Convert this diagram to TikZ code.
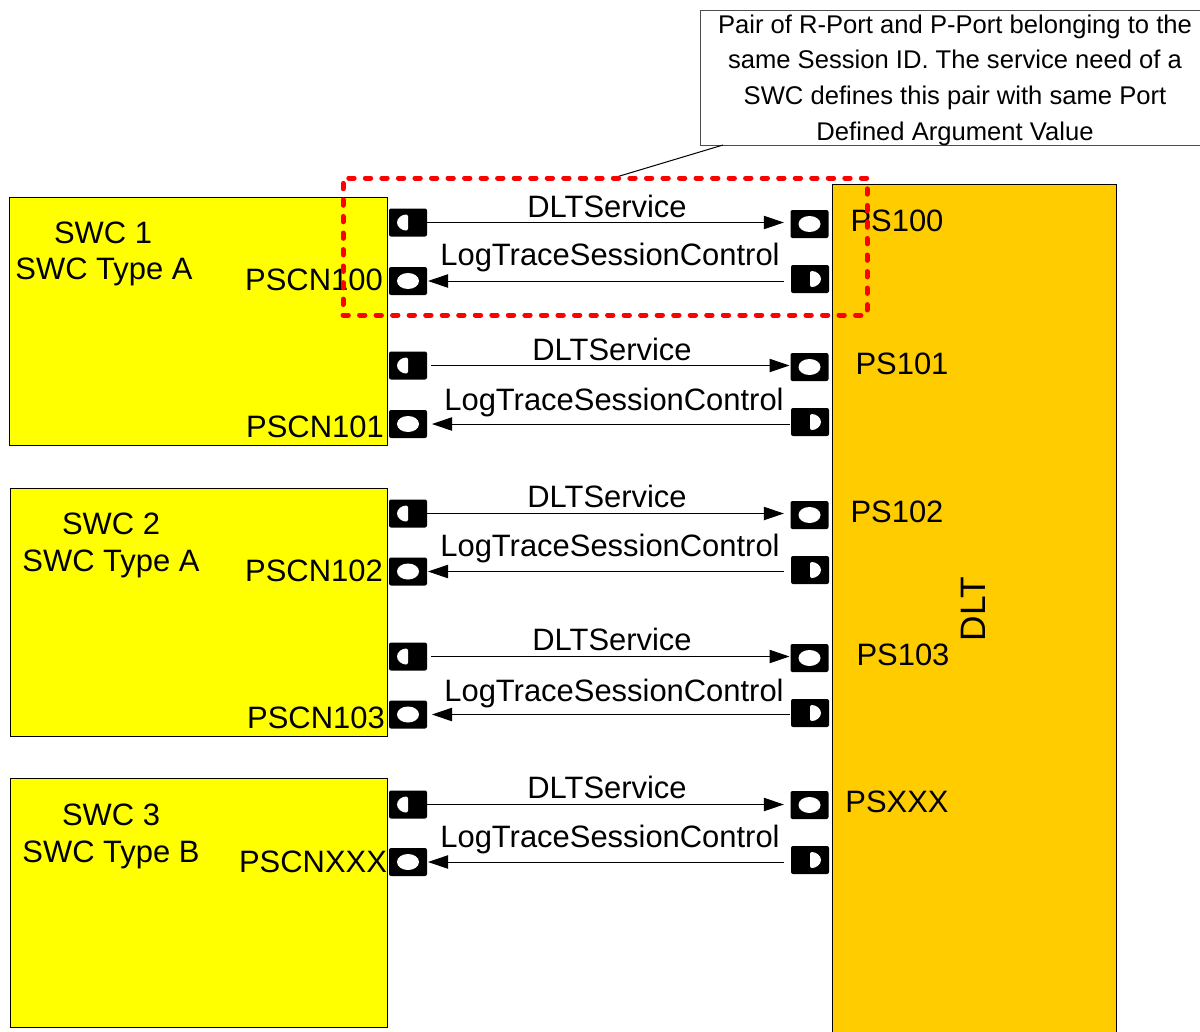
\documentclass[tikz,border=0pt]{standalone}
\usepackage{fontspec}
\setmainfont{Liberation Sans}
\usetikzlibrary{arrows.meta}
\definecolor{swcyellow}{RGB}{255,255,0}
\definecolor{dltorange}{RGB}{255,204,0}
\tikzset{
  swcbox/.style={draw=black, line width=0.75pt, fill=swcyellow, inner sep=0pt, outer sep=0pt, minimum width=283pt, minimum height=186.5pt},
  portbox/.style={fill=black, rounded corners=1.5pt, inner sep=0pt, outer sep=0pt, minimum width=28.5pt, minimum height=21pt},
  portfull/.style={portbox, path picture={\fill[white] (path picture bounding box.center) ellipse [x radius=8.25pt, y radius=6pt];}},
  portleft/.style={portbox, path picture={\fill[white] (path picture bounding box.center) ++(0,6pt) arc[start angle=90, end angle=270, x radius=8.25pt, y radius=6pt] -- cycle;}},
  portright/.style={portbox, path picture={\fill[white] (path picture bounding box.center) ++(0,6pt) arc[start angle=90, end angle=-90, x radius=8.25pt, y radius=6pt] -- cycle;}},
  conn/.style={line width=0.75pt, -{Triangle[length=15pt, width=10pt]}},
}
\begin{document}
\begin{tikzpicture}[x=0.75pt, y=-0.75pt, every node/.style={font=\fontsize{23.2}{27}\selectfont}]
\useasboundingbox (0,0) rectangle (1200,1032);

% DLT
\node (dltbox) [draw=black, line width=0.75pt, fill=dltorange, inner sep=0pt, outer sep=0pt, minimum width=213pt, minimum height=645pt] at (974,614) {};
\node (dltlabel) [rotate=90, font=\fontsize{26.5}{30}\selectfont] at (973,609) {DLT};

% SWC boxes
\node (swcA) [swcbox, minimum width=283.5pt] at (198,321.5) {};
\node (swcB) [swcbox] at (198.75,612.5) {};
\node (swcC) [swcbox] at (198.75,903) {};
\node (swcAname) at (103,233) {SWC 1};
\node (swcAtype) at (104,272) {SWC Type A};
\node (swcBname) at (111,524) {SWC 2};
\node (swcBtype) at (111,564) {SWC Type A};
\node (swcCname) at (111,815) {SWC 3};
\node (swcCtype) at (111,855) {SWC Type B};

% Note
\node (note) [draw=black!70, line width=0.75pt, fill=white, inner sep=0pt, outer sep=0pt, minimum width=382.5pt, minimum height=101.25pt] at (955,77.5) {};
\node (notetext) [align=center, font=\fontsize{19.2}{26.8}\selectfont] at (955,80) {Pair of R-Port and P-Port belonging to the\\same Session ID. The service need of a\\SWC defines this pair with same Port\\Defined Argument Value};
\coordinate (noteend) at (613,178);
\draw[line width=0.75pt] (723,145) coordinate (notefoot) -- (noteend);

% Row PS100
\node (portAa) [portleft] at (408,222.5) {};
\node (portAb) [portfull] at (408,281) {};
\node (portAc) [portfull] at (809.5,224) {};
\node (portAd) [portright] at (810,279) {};
\draw[conn, shorten >=5pt] (portAa.east) -- (portAc.west |- portAa.east);
\draw[conn, shorten <=5.5pt, shorten >=0.75pt] (portAd.west |- portAb.east) -- (portAb.east);
\node (svcA) at (607,206) {DLTService};
\node (logA) at (610,257) {LogTraceSessionControl};
\node (pscnA) at (314,280) {PSCN100};
\node (psA) at (897,221) {PS100};

% Row PS101
\node (portBa) [portleft] at (408,365.5) {};
\node (portBb) [portfull] at (408,424) {};
\node (portBc) [portfull] at (809.5,367) {};
\node (portBd) [portright] at (810,422) {};
\draw[conn, shorten <=3pt, shorten >=0.75pt] (portBa.east) -- (portBc.west |- portBa.east);
\draw[conn, shorten <=0.75pt, shorten >=3.75pt] (portBd.west |- portBb.east) -- (portBb.east);
\node (svcB) at (612,349) {DLTService};
\node (logB) at (614,402) {LogTraceSessionControl};
\node (pscnB) at (315,427) {PSCN101};
\node (psB) at (902,364) {PS101};

% Row PS102
\node (portCa) [portleft] at (408,513.5) {};
\node (portCb) [portfull] at (408,571.5) {};
\node (portCc) [portfull] at (809.5,515) {};
\node (portCd) [portright] at (810,570) {};
\draw[conn, shorten >=5pt] (portCa.east) -- (portCc.west |- portCa.east);
\draw[conn, shorten <=5.5pt, shorten >=0.75pt] (portCd.west |- portCb.east) -- (portCb.east);
\node (svcC) at (607,496) {DLTService};
\node (logC) at (610,548) {LogTraceSessionControl};
\node (pscnC) at (314,571) {PSCN102};
\node (psC) at (897,512) {PS102};

% Row PS103
\node (portDa) [portleft] at (408,656.5) {};
\node (portDb) [portfull] at (408,714.5) {};
\node (portDc) [portfull] at (809.5,658) {};
\node (portDd) [portright] at (810,713) {};
\draw[conn, shorten <=3pt, shorten >=0.75pt] (portDa.east) -- (portDc.west |- portDa.east);
\draw[conn, shorten <=0.75pt, shorten >=3.75pt] (portDd.west |- portDb.east) -- (portDb.east);
\node (svcD) at (612,639) {DLTService};
\node (logD) at (614,693) {LogTraceSessionControl};
\node (pscnD) at (316,718) {PSCN103};
\node (psD) at (903,655) {PS103};

% Row PSXXX
\node (portEa) [portleft] at (408,804.5) {};
\node (portEb) [portfull] at (408,862) {};
\node (portEc) [portfull] at (809.5,805) {};
\node (portEd) [portright] at (810,860) {};
\draw[conn, shorten >=5pt] (portEa.east) -- (portEc.west |- portEa.east);
\draw[conn, shorten <=5.5pt, shorten >=0.75pt] (portEd.west |- portEb.east) -- (portEb.east);
\node (svcE) at (607,787) {DLTService};
\node (logE) at (610,839) {LogTraceSessionControl};
\node (pscnE) at (313,862) {PSCNXXX};
\node (psE) at (897,802) {PSXXX};

% Red pair frame
\node (pairframe) [draw=red, line width=3.75pt, line cap=round, dash pattern=on 4pt off 8.4pt, inner sep=0pt, outer sep=0pt, minimum width=393pt, minimum height=102.75pt] at (605,246.5) {};
\end{tikzpicture}
\end{document}
